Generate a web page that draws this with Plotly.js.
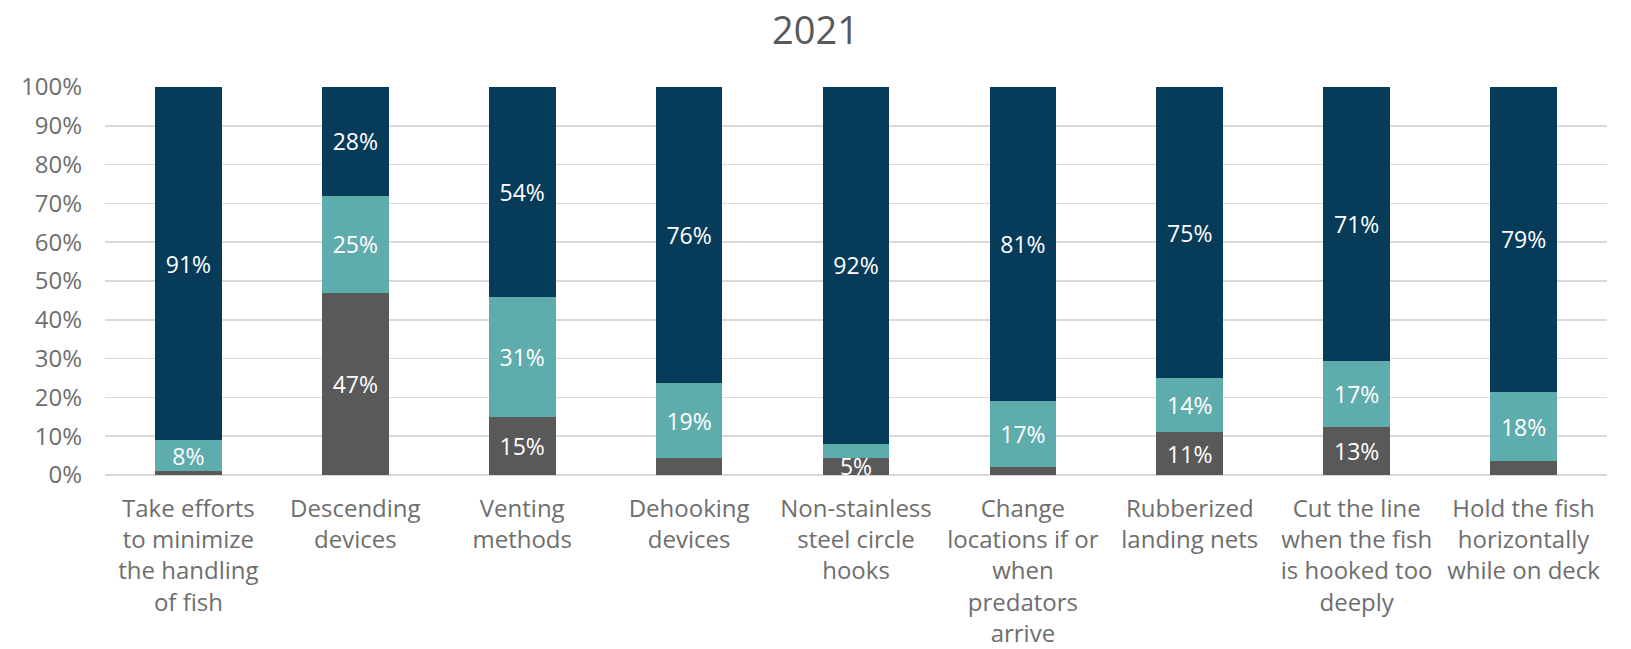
<!DOCTYPE html>
<html>
<head>
<meta charset="utf-8">
<script src="https://cdn.plot.ly/plotly-3.0.1.min.js"></script>
<style>html,body{margin:0;padding:0;background:#fff;}#chart{width:1631px;height:649px;}</style>
</head>
<body>
<div id="chart"></div>
<script>
const categories = [
  "Take efforts<br>to minimize<br>the handling<br>of fish",
  "Descending<br>devices",
  "Venting<br>methods",
  "Dehooking<br>devices",
  "Non-stainless<br>steel circle<br>hooks",
  "Change<br>locations if or<br>when<br>predators<br>arrive",
  "Rubberized<br>landing nets",
  "Cut the line<br>when the fish<br>is hooked too<br>deeply",
  "Hold the fish<br>horizontally<br>while on deck"
];
const bottomValues = [1, 47, 15, 4.4, 4.5, 2, 11, 12.5, 3.5];
const middleValues = [8, 25, 31, 19.2, 3.5, 17, 14, 17, 18];
const topValues    = [91, 28, 54, 76.4, 92, 81, 75, 70.5, 78.5];
const yTicks = [0, 10, 20, 30, 40, 50, 60, 70, 80, 90, 100];

const FONT = "'Open Sans', Lato, sans-serif";
function labels(vals) { return vals.map(v => v >= 4.5 ? Math.round(v) + "%" : ""); }
function mk(vals, color) {
  return {
    type: "bar", x: categories, y: vals, marker: {color: color, line: {width: 0}},
    text: labels(vals), textposition: "inside", insidetextanchor: "middle",
    textfont: {color: "#ffffff", size: 23, family: FONT},
    textangle: 0, cliponaxis: false, hoverinfo: "skip", showlegend: false
  };
}
const data = [
  mk(bottomValues, "#595959"),
  mk(middleValues, "#5FACAD"),
  mk(topValues, "#073B5A")
];
const layout = {
  width: 1631, height: 649,
  barmode: "stack", bargap: 0.6,
  paper_bgcolor: "#ffffff", plot_bgcolor: "#ffffff",
  margin: {l: 105, r: 24, t: 87, b: 174},
  font: {family: FONT, color: "#6e6e6e"},
  uniformtext: {minsize: 23, mode: "show"},
  title: {text: "2021", x: 0.5, xref: "container", xanchor: "center", y: 0.952, yanchor: "middle", font: {size: 38, color: "#595959", family: FONT}},
  xaxis: {tickfont: {size: 24, color: "#6e6e6e", family: FONT}, showgrid: false, showline: false, ticks: "", ticklabelstandoff: 17, automargin: false},
  yaxis: {range: [0, 100], tickvals: yTicks, ticktext: yTicks.map(t => t + "%"), tickfont: {size: 24, color: "#6e6e6e", family: FONT},
          gridcolor: "#d9d9d9", gridwidth: 1.5, zeroline: true, zerolinecolor: "#d9d9d9", zerolinewidth: 1.5, showline: false, ticks: "", ticklabelstandoff: 22, automargin: false}
};
Plotly.newPlot("chart", data, layout, {displayModeBar: false, staticPlot: true});
</script>
</body>
</html>
